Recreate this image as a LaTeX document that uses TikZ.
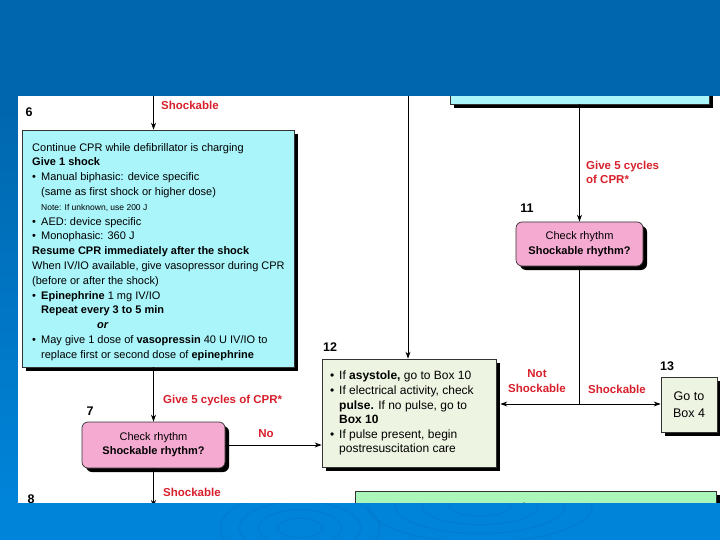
\documentclass[tikz,border=0pt]{standalone}
\usepackage{fontspec}
\setmainfont{Liberation Sans}
\usetikzlibrary{arrows.meta,shadows,calc}
\definecolor{topblue}{HTML}{0066AD}
\definecolor{botblue}{HTML}{0084D9}
\definecolor{ripple}{HTML}{0070C2}
\definecolor{cyanfill}{HTML}{AAF5FA}
\definecolor{pinkfill}{HTML}{F5AAD2}
\definecolor{palegreen}{HTML}{EEF4E2}
\definecolor{mintfill}{HTML}{AAF5B9}
\definecolor{redlbl}{HTML}{D8202C}
\newcommand{\bu}{\makebox[9pt][l]{\textbullet}}
\newcommand{\ind}{\hspace*{9pt}}
\begin{document}
\begin{tikzpicture}[x=1pt,y=-1pt,
 box/.style={draw=black!80, line width=0.7pt, inner sep=0pt,
   drop shadow={shadow xshift=4pt, shadow yshift=-4pt, fill=black, opacity=1}},
 cyanbox/.style={box, fill=cyanfill},
 pinkbox/.style={box, fill=pinkfill, rounded corners=6pt},
 greenbox/.style={box, fill=palegreen},
 mintbox/.style={box, fill=mintfill},
 lbl/.style={text=redlbl, font=\bfseries\fontsize{11.5}{14}\selectfont, inner sep=0pt, align=center},
 num/.style={font=\bfseries\fontsize{12.5}{14}\selectfont, inner sep=0pt},
 arr/.style={line width=0.8pt, -{Stealth[length=7pt,width=5pt]}},
 ln/.style={line width=0.8pt},
 bodytext/.style={inner sep=0pt, align=left, anchor=north west},
]
\useasboundingbox (0,0) rectangle (720,540);
% background
\fill[botblue] (0,0) rectangle (720,540);
\shade[top color=topblue, bottom color=botblue] (0,96) rectangle (18,503);
\fill[white] (18,96) rectangle (720,503);

% boxes
\node[cyanbox, minimum width=259pt, minimum height=80pt] (toprt) at (579.5,64) {};
\node[cyanbox, minimum width=272pt, minimum height=237pt] (b6) at (158,248.5) {};
\node[bodytext, font=\fontsize{11}{14.8}\selectfont] (b6t) at (32,143) {%
Continue CPR while defibrillator is charging\\
\textbf{Give 1 shock}\\
\bu Manual biphasic: device specific\\
\ind(same as first shock or higher dose)\\
\ind{\fontsize{8.5}{10}\selectfont Note: If unknown, use 200 J}\\
\bu AED: device specific\\
\bu Monophasic: 360 J\\
\textbf{Resume CPR immediately after the shock}\\
When IV/IO available, give vasopressor during CPR\\
(before or after the shock)\\
\bu\textbf{Epinephrine} 1 mg IV/IO\\
\ind\textbf{Repeat every 3 to 5 min}\\
\hspace*{65pt}\textbf{\textit{or}}\\
\bu May give 1 dose of \textbf{vasopressin} 40 U IV/IO to\\
\ind replace first or second dose of \textbf{epinephrine}};

\node[pinkbox, minimum width=143pt, minimum height=46pt, align=center,
  font=\fontsize{11}{14}\selectfont] (b7) at (153.5,445) {Check rhythm\\\textbf{Shockable rhythm?}};
\node[pinkbox, minimum width=127pt, minimum height=44pt, align=center,
  font=\fontsize{11}{15}\selectfont] (b11) at (579.5,244) {Check rhythm\\\textbf{Shockable rhythm?}};

\node[greenbox, minimum width=174pt, minimum height=108pt] (b12) at (409,413) {};
\node[bodytext, font=\fontsize{12}{14.6}\selectfont] (b12t) at (330,371) {%
\bu If \textbf{asystole,} go to Box 10\\
\bu If electrical activity, check\\
\ind\textbf{pulse.} If no pulse, go to\\
\ind\textbf{Box 10}\\
\bu If pulse present, begin\\
\ind postresuscitation care};

\node[greenbox, minimum width=56pt, minimum height=55pt, align=center,
  font=\fontsize{12.5}{17}\selectfont] (b13) at (689,404.5) {Go to\\Box 4};

\node[mintbox, minimum width=361pt, minimum height=58pt] (bcpr) at (535.5,520) {};
\node[inner sep=0pt, font=\bfseries\fontsize{11.5}{14}\selectfont] (bcprt) at (535,509) {During CPR};

% connectors
\coordinate (t6) at (153.5,90);
\coordinate (t12) at (408,90);
\coordinate (b8) at (153.5,507);
\coordinate (j) at (579.5,404);
\draw[arr] (t6) -- (t6 |- b6.north);
\draw[arr] (b7.north |- b6.south) -- (b7.north);
\draw[arr] (b7.south) -- (b8);
\draw[arr] (b7.east) -- (b7.east -| b12.west);
\draw[arr] (t12) -- (t12 |- b12.north);
\draw[arr] (toprt.south -| b11.north) -- (b11.north);
\draw[ln] (b11.south) -- (j);
\draw[arr] (j) -- ($(j -| b12.east)+(4,0)$);
\draw[arr] (j) -- (j -| b13.west);

% labels
\node[lbl, anchor=west] (l1) at (161,105) {Shockable};
\node[lbl, anchor=west] (l2) at (163,401) {Give 5 cycles of CPR*};
\node[lbl] (l3) at (266,434) {No};
\node[lbl, anchor=west] (l4) at (163,492) {Shockable};
\node[lbl, anchor=west, align=left] (l5) at (586,172) {Give 5 cycles\\of CPR*};
\node[lbl] (l6) at (537,381) {Not\\[1.5pt]Shockable};
\node[lbl] (l7) at (617,389) {Shockable};

% numbers
\node[num] (n6) at (29,112) {6};
\node[num] (n7) at (90,411) {7};
\node[num] (n8) at (31,499) {8};
\node[num] (n11) at (527,208) {11};
\node[num] (n12) at (330,347) {12};
\node[num] (n13) at (667,366) {13};

% overlay bands
\fill[topblue] (0,0) rectangle (720,96);
\begin{scope}
\clip (0,503) rectangle (720,540);
\fill[botblue] (0,503) rectangle (720,540);
\foreach \r in {14,26,38,50}
  \draw[ripple, line width=1.4pt, opacity=0.3] (300,528) ellipse [x radius=\r*1.6, y radius=\r*0.7];
\foreach \r in {18,34,50,66}
  \draw[ripple, line width=1.4pt, opacity=0.3] (480,506) ellipse [x radius=\r*1.7, y radius=\r*0.55];
\end{scope}
\end{tikzpicture}
\end{document}
